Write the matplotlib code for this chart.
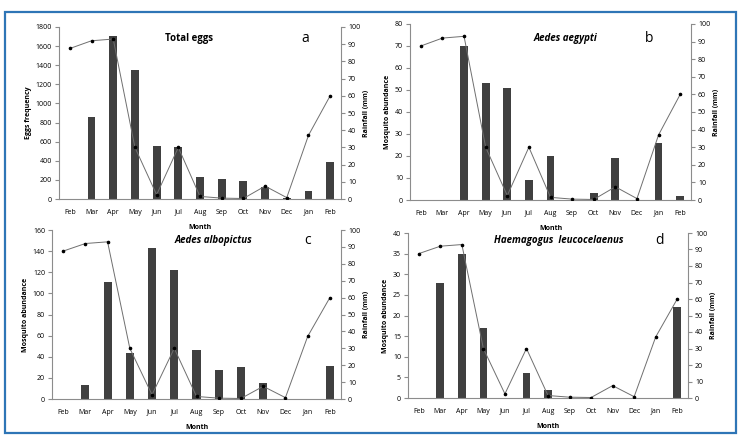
import matplotlib
matplotlib.use("Agg")
import matplotlib.pyplot as plt
from matplotlib.patches import Rectangle

plt.rcParams['font.family'] = ['Open Sans', 'DejaVu Sans']

months = ["Feb", "Mar", "Apr", "May", "Jun", "Jul", "Aug", "Sep", "Oct", "Nov", "Dec", "Jan", "Feb"]
rainfall = [87.5, 92, 93, 30, 2.5, 30, 1.5, 0.5, 0.3, 7.5, 0.8, 37, 60]

total_eggs = [0, 855, 1710, 1350, 555, 540, 235, 210, 190, 130, 10, 80, 385]
aedes_aegypti = [0, 0, 70, 53, 51, 9, 20, 0, 3, 19, 0, 26, 2]
aedes_albopictus = [0, 13, 111, 44, 143, 122, 46, 27, 30, 15, 0, 0, 31]
haemagogus = [0, 28, 35, 17, 0, 6, 2, 0, 0, 0, 0, 0, 22]

panels = [
    (total_eggs, "Total eggs", "a", "Eggs frequency", 1800, 200, False),
    (aedes_aegypti, "Aedes aegypti", "b", "Mosquito abundance", 80, 10, True),
    (aedes_albopictus, "Aedes albopictus", "c", "Mosquito abundance", 160, 20, True),
    (haemagogus, "Haemagogus  leucocelaenus", "d", "Mosquito abundance", 40, 5, True),
]
# axes boxes in pixels: left, top, right, bottom
boxes = [(59, 27, 341, 199), (410, 24, 691, 200), (52, 230, 341, 399), (408, 233, 688, 398)]
# title x, letter x, text y (axes fraction)
label_pos = [(0.46, 0.875, 0.935), (0.555, 0.85, 0.92), (0.56, 0.886, 0.935), (0.54, 0.9, 0.955)]

W, H = 739, 436
fig = plt.figure(figsize=(W / 100, H / 100), dpi=100)
fig.patches.append(Rectangle((5 / W, 1 - 433 / H), 731 / W, 421 / H, transform=fig.transFigure,
                             fill=False, edgecolor="#2e75b6", linewidth=1.6))

axis_col = "#8c8c8c"
fs = 5
x = list(range(len(months)))
for (vals, title, letter, ylab, ymax, ystep, ital), (l, t, r, b), (tx, lx, ty) in zip(panels, boxes, label_pos):
    ax = fig.add_axes([l / W, 1 - b / H, (r - l) / W, (b - t) / H])
    ax.bar(x, vals, width=0.36, color="#404040", zorder=2)
    ax.set_xlim(-0.5, len(months) - 0.5)
    ax.set_ylim(0, ymax)
    ax.set_yticks(range(0, ymax + 1, ystep))
    ax.set_xticks(x)
    ax.set_xticklabels(months)
    ax.set_ylabel(ylab, fontsize=fs, fontweight="bold", labelpad=3)
    ax.set_xlabel("Month", fontsize=fs, fontweight="bold", labelpad=6)
    ax.tick_params(axis="y", labelsize=fs, length=3, color=axis_col, width=0.8, pad=2)
    ax.tick_params(axis="x", labelsize=fs, length=0, pad=7)
    for s in ["top", "right"]:
        ax.spines[s].set_visible(False)
    for s in ["left", "bottom"]:
        ax.spines[s].set_color(axis_col)
        ax.spines[s].set_linewidth(0.8)
    ax.text(tx, ty, title, transform=ax.transAxes, ha="center", va="center", fontsize=7,
            fontweight="bold", style="italic" if ital else "normal")
    ax.text(lx, ty, letter, transform=ax.transAxes, ha="center", va="center", fontsize=10)

    ax2 = ax.twinx()
    ax2.plot(x, rainfall, color="#6f6f6f", linewidth=0.7, marker="o", markersize=1.6,
             markerfacecolor="black", markeredgecolor="black", zorder=3)
    ax2.set_ylim(0, 100)
    ax2.set_yticks(range(0, 101, 10))
    ax2.set_ylabel("Rainfall (mm)", fontsize=fs, fontweight="bold", labelpad=2)
    ax2.tick_params(axis="y", labelsize=fs, length=3, color=axis_col, width=0.8, pad=2)
    for s in ["top", "left", "bottom"]:
        ax2.spines[s].set_visible(False)
    ax2.spines["right"].set_color(axis_col)
    ax2.spines["right"].set_linewidth(0.8)

fig.savefig("out.png", dpi=100)
